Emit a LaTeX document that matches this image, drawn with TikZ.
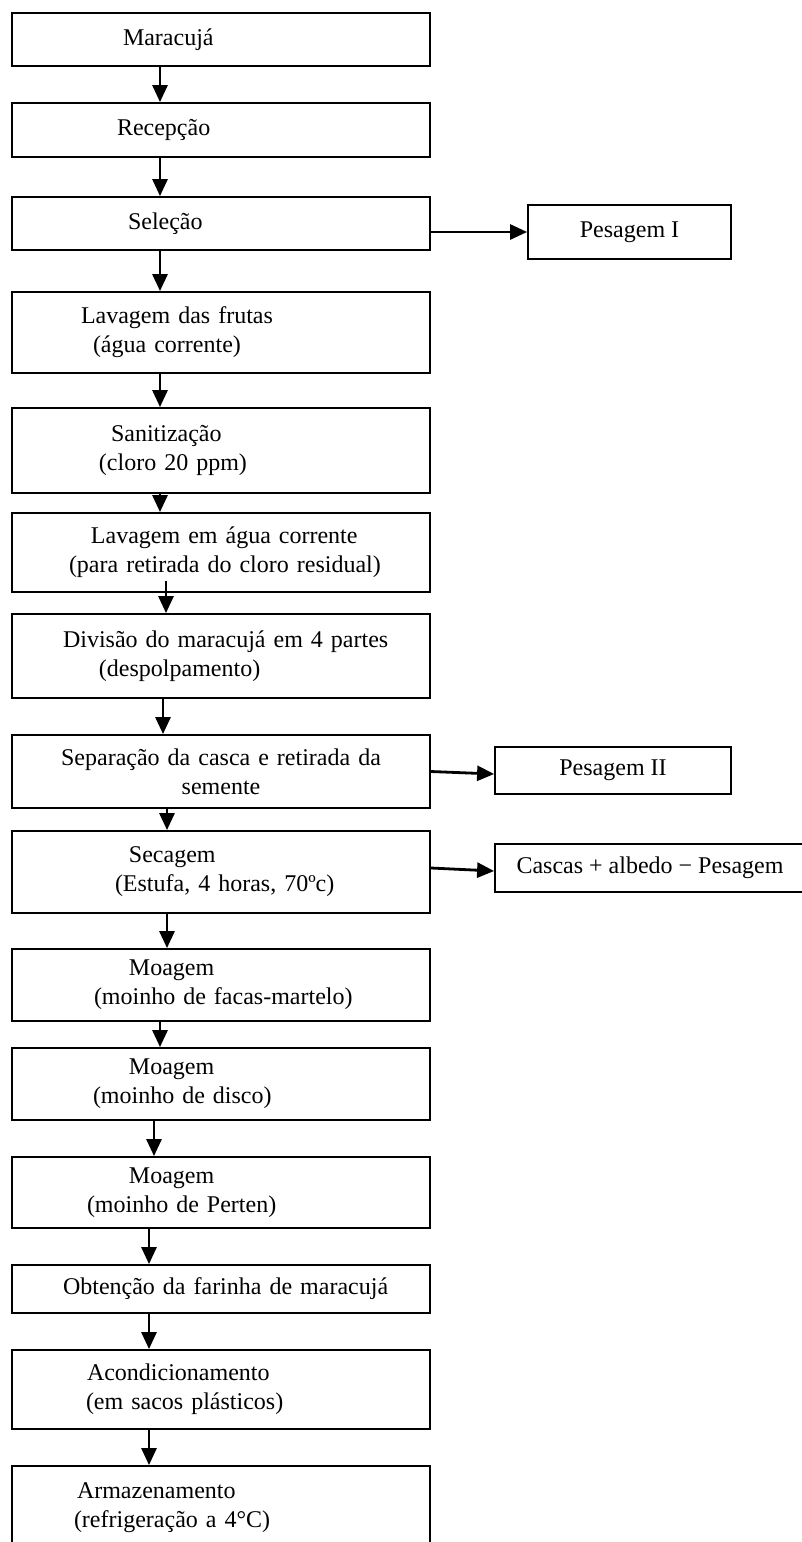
\documentclass[tikz,border=0pt]{standalone}
\usepackage{fontspec}
\setmainfont{Liberation Serif}
\usetikzlibrary{arrows.meta}
\newcommand{\indt}[1]{\hspace*{#1pt}}

\begin{document}
\begin{tikzpicture}[x=0.5pt, y=-0.5pt, font=\fontsize{12}{14.5}\selectfont,
    etapa/.style = {draw, line width=0.9pt, minimum width=209pt, text width=209pt, inner xsep=0pt, align=left},
    saida/.style = {draw, line width=0.9pt, inner xsep=0pt, align=center},
    seta/.style = {line width=1.4pt, -{Triangle[length=8.5pt,width=7.5pt]}}]
    \useasboundingbox (0,0) rectangle (802,1542);

    % etapas do processo
    \node[etapa, minimum height=26.5pt] (maracuja) at (221,39.5) {\indt{55.5}Maracujá};
    \node[etapa, minimum height=27pt] (recepcao) at (221,130) {\indt{52.5}Recepção};
    \node[etapa, minimum height=26.5pt] (selecao) at (221,223.5) {\indt{58}Seleção};
    \node[etapa, minimum height=40.5pt] (lavagem) at (221,332.5) {\indt{34.5}Lavagem das frutas\\ \indt{40.5}(água corrente)};
    \node[etapa, minimum height=42.5pt] (sanit) at (221,450.5) {\indt{49.5}Sanitização\\ \indt{43.5}(cloro 20 ppm)};
    \node[etapa, minimum height=39.5pt] (enxague) at (221,552.5) {\indt{39.5}Lavagem em água corrente\\ \indt{28.5}(para retirada do cloro residual)};
    \node[etapa, minimum height=42pt] (divisao) at (221,656) {\indt{25.5}Divisão do maracujá em 4 partes\\ \indt{43.5}(despolpamento)};
    \node[etapa, align=center, minimum height=36.5pt] (separacao) at (221,771.5) {Separação da casca e retirada da\\ semente};
    \node[etapa, minimum height=41pt] (secagem) at (221,872) {\indt{58.5}Secagem\\ \indt{51.5}(Estufa, 4 horas, 70ºc)};
    \node[etapa, minimum height=36pt] (moagem1) at (221,985) {\indt{58.5}Moagem\\ \indt{41}(moinho de facas-martelo)};
    \node[etapa, minimum height=36pt] (moagem2) at (221,1084) {\indt{58.5}Moagem\\ \indt{40.5}(moinho de disco)};
    \node[etapa, minimum height=35.5pt] (moagem3) at (221,1192.5) {\indt{58.5}Moagem\\ \indt{37.5}(moinho de Perten)};
    \node[etapa, minimum height=24pt] (farinha) at (221,1289) {\indt{25.5}Obtenção da farinha de maracujá};
    \node[etapa, minimum height=39.5pt] (acond) at (221,1389.5) {\indt{37.5}Acondicionamento\\ \indt{37}(em sacos plásticos)};
    \node[etapa, minimum height=42pt] (armaz) at (221,1508) {\indt{32.5}Armazenamento\\ \indt{31}(refrigeração a 4°C)};

    % pesagens
    \node[saida, minimum width=101.5pt, minimum height=27pt] (pes1) at (629.5,232) {Pesagem I};
    \node[saida, minimum width=118pt, minimum height=23.5pt] (pes2) at (613,770.5) {Pesagem II};
    \node[saida, minimum width=155pt, minimum height=24pt] (pes3) at (650,868) {Cascas + albedo − Pesagem};

    % setas
    \draw[seta] ([xshift=-30.5pt]maracuja.south) -- ([xshift=-30.5pt]recepcao.north);
    \draw[seta] ([xshift=-30.5pt]recepcao.south) -- ([xshift=-30.5pt]selecao.north);
    \draw[seta] ([xshift=-30.5pt]selecao.south) -- ([xshift=-30.5pt]lavagem.north);
    \draw[seta] ([xshift=-30.5pt]lavagem.south) -- ([xshift=-30.5pt]sanit.north);
    \draw[seta] ([xshift=-30.5pt]sanit.south) -- ([xshift=-30.5pt]enxague.north);
    \draw[seta] ([xshift=-27.5pt,yshift=6pt]enxague.south) -- ([xshift=-27.5pt]divisao.north);
    \draw[seta] ([xshift=-29pt]divisao.south) -- ([xshift=-29pt]separacao.north);
    \draw[seta] ([xshift=-27pt]separacao.south) -- ([xshift=-27pt]secagem.north);
    \draw[seta] ([xshift=-27pt]secagem.south) -- ([xshift=-27pt]moagem1.north);
    \draw[seta] ([xshift=-30.5pt]moagem1.south) -- ([xshift=-30.5pt]moagem2.north);
    \draw[seta] ([xshift=-33.5pt]moagem2.south) -- ([xshift=-33.5pt]moagem3.north);
    \draw[seta] ([xshift=-36pt]moagem3.south) -- ([xshift=-36pt]farinha.north);
    \draw[seta] ([xshift=-36pt]farinha.south) -- ([xshift=-36pt]acond.north);
    \draw[seta] ([xshift=-36pt]acond.south) -- ([xshift=-36pt]armaz.north);

    \draw[seta] (selecao.east |- pes1.west) -- (pes1.west);
    \draw[seta] (separacao.east) -- ([yshift=-1.75pt]pes2.west);
    \draw[seta] ([yshift=2pt]secagem.east) -- ([yshift=-1.5pt]pes3.west);
\end{tikzpicture}
\end{document}
